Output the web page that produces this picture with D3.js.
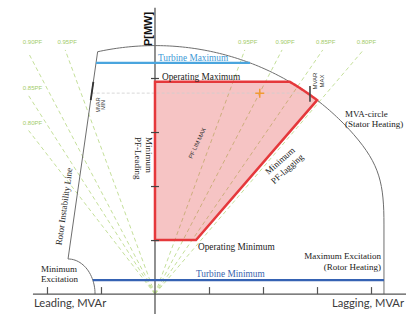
<!DOCTYPE html>
<html>
<head>
<meta charset="utf-8">
<script src="https://cdn.jsdelivr.net/npm/d3@7"></script>
<style>
  html, body { margin: 0; padding: 0; background: #fff; }
  svg { display: block; }
</style>
</head>
<body>
<svg id="chart" width="406" height="320"></svg>
<script>
// Generator capability diagram: P (MW) up, Q (MVAr) across, one unit per tick.
const qTicks = [-2, -1, 1, 2, 3, 4];
const pTicks = [1, 2, 3, 4];

// Constant power-factor rays, angle measured from the P axis (degrees)
const pfLabels = ["0.95PF", "0.90PF", "0.85PF", "0.80PF"];
const pfAngleLag = [20.2, 27.5, 34.5, 40.5];
const pfAngleLead = [20.2, 27.7, 32.5, 37.7];
const pfTopP = 4.52;
const pfLeftQ = -2.34;

// Capability limits
const mvaRadiusQ = 4.80;
const mvaRadiusP = 4.60;
const maxExcitationQ = 4.24;
const maxExcitationTopP = 1.28;
const rotorBlendDeg = 40;
const rotorLineQ = [-1.61, -1.07];
const rotorLineP = [0.65, 4.43];
const minExcitationQ = -1.61;
const minExcitationRadiusQ = 0.50;
const minExcitationRadiusP = 0.65;
const turbineMaxP = 4.28;
const turbineMinP = 0.26;

// Operating region
const operatingMaxP = 3.93;
const operatingMinP = 1.0;
const pfLeadLimitQ = 0;
const pfLagLimitQ = [0.76, 3.02];
const pfLagLimitP = [1.0, 3.61];
const mvarMaxQ = 2.87;
const mvarMaxP = [3.56, 3.85];
const mvarMinP = [3.59, 3.93];
const setpointQ = 1.94;
const setpointP = 3.72;

const W = 406, H = 320;
const svg = d3.select("#chart");
const x = d3.scaleLinear().domain([-2.87, 4.648]).range([0, W]);
const y = d3.scaleLinear().domain([-0.48, 5.444]).range([H, 0]);

const SERIF = "'Liberation Serif', 'Times New Roman', serif";
const SANS = "'Liberation Sans', Arial, sans-serif";

// ---- geometry helpers ----
const ellF = (q, p) => (q / mvaRadiusQ) ** 2 + (p / mvaRadiusP) ** 2 - 1;
const ellPt = t => [mvaRadiusQ * Math.cos(t), mvaRadiusP * Math.sin(t)];
const ellAngle = (q, p) => Math.atan2(p / mvaRadiusP, q / mvaRadiusQ);
function bisect(f, a, b) {
  let fa = f(a);
  for (let i = 0; i < 60; i++) {
    const m = (a + b) / 2, fm = f(m);
    if ((fm < 0) === (fa < 0)) { a = m; fa = fm; } else { b = m; }
  }
  return (a + b) / 2;
}
const rotorQ = p => rotorLineQ[0] + (p - rotorLineP[0]) * (rotorLineQ[1] - rotorLineQ[0]) / (rotorLineP[1] - rotorLineP[0]);
const lagQ = t => pfLagLimitQ[0] + t * (pfLagLimitQ[1] - pfLagLimitQ[0]);
const lagP = t => pfLagLimitP[0] + t * (pfLagLimitP[1] - pfLagLimitP[0]);
const minExcQAt = p => minExcitationQ + minExcitationRadiusQ * Math.sqrt(Math.max(0, 1 - (p / minExcitationRadiusP) ** 2));
const mvaQAt = p => mvaRadiusQ * Math.sqrt(Math.max(0, 1 - (p / mvaRadiusP) ** 2));

const rotorTopP = bisect(p => ellF(rotorQ(p), p), rotorLineP[0], mvaRadiusP);

// ---- power factor rays ----
const gPF = svg.append("g");
function pfRay(angleDeg, side) {
  const a = angleDeg * Math.PI / 180;
  const dq = side * Math.sin(a), dp = Math.cos(a);
  let t = pfTopP / dp;
  if (side < 0) t = Math.min(t, pfLeftQ / dq);
  return { q: t * dq, p: t * dp };
}
[[pfAngleLag, 1], [pfAngleLead, -1]].forEach(([angles, side]) => {
  angles.forEach((ang, i) => {
    const e = pfRay(ang, side);
    gPF.append("line")
      .attr("x1", x(0)).attr("y1", y(0))
      .attr("x2", x(e.q)).attr("y2", y(e.p))
      .attr("stroke", "#bddb8e").attr("stroke-width", 0.9)
      .attr("stroke-dasharray", "4,3");
    const onTop = e.p > pfTopP - 0.2;
    const lx = side > 0 ? x(e.q) + 3 : Math.max(x(e.q) + 2, 32.5);
    const ly = onTop ? y(pfTopP) - 6 : y(e.p) - 6;
    gPF.append("text")
      .attr("x", lx).attr("y", ly)
      .attr("text-anchor", "middle")
      .attr("font-family", SANS).attr("font-size", 6)
      .attr("fill", "#a3cc6a")
      .text(pfLabels[i]);
  });
});

// ---- vertical axis line (under the operating region) ----
svg.append("line")
  .attr("x1", x(0)).attr("x2", x(0))
  .attr("y1", y(5.30)).attr("y2", y(-0.37))
  .attr("stroke", "#555").attr("stroke-width", 1.3);

// ---- operating region ----
const thetaTop = Math.asin(operatingMaxP / mvaRadiusP);
const tCorner = bisect(t => ellF(lagQ(t), lagP(t)), 0, 3);
const cornerQ = lagQ(tCorner), cornerP = lagP(tCorner);
const thetaCorner = ellAngle(cornerQ, cornerP);
const region = [[pfLeadLimitQ, operatingMinP], [pfLeadLimitQ, operatingMaxP]];
const nArc = 30;
for (let i = 0; i <= nArc; i++) {
  region.push(ellPt(thetaTop + (thetaCorner - thetaTop) * i / nArc));
}
region.push([cornerQ, cornerP]);
region.push([pfLagLimitQ[0], pfLagLimitP[0]]);
const regionLine = d3.line().x(d => x(d[0])).y(d => y(d[1]));
svg.append("path")
  .attr("d", regionLine(region) + "Z")
  .attr("fill", "#e23c3c").attr("fill-opacity", 0.3)
  .attr("stroke", "none");

// ---- capability outline ----
const outline = d3.path();
const nMe = 24;
for (let i = 0; i <= nMe; i++) {
  const t = (i / nMe) * Math.PI / 2;
  const q = minExcitationQ + minExcitationRadiusQ * Math.cos(t);
  const p = minExcitationRadiusP * Math.sin(t);
  if (i === 0) outline.moveTo(x(q), y(p)); else outline.lineTo(x(q), y(p));
}
outline.lineTo(x(rotorQ(rotorTopP)), y(rotorTopP));
const thetaStart = ellAngle(rotorQ(rotorTopP), rotorTopP);
const thetaBlend = rotorBlendDeg * Math.PI / 180;
const nMva = 90;
for (let i = 1; i <= nMva; i++) {
  const [q, p] = ellPt(thetaStart + (thetaBlend - thetaStart) * i / nMva);
  outline.lineTo(x(q), y(p));
}
{
  const [q0, p0] = ellPt(thetaBlend);
  let tq = mvaRadiusQ * Math.sin(thetaBlend), tp = -mvaRadiusP * Math.cos(thetaBlend);
  const n = Math.hypot(tq, tp); tq /= n; tp /= n;
  const k = 0.75;
  outline.bezierCurveTo(
    x(q0 + k * tq), y(p0 + k * tp),
    x(maxExcitationQ), y(maxExcitationTopP + k),
    x(maxExcitationQ), y(maxExcitationTopP));
  outline.lineTo(x(maxExcitationQ), y(0));
}
svg.append("path")
  .attr("d", outline.toString())
  .attr("fill", "none").attr("stroke", "#6e6e6e").attr("stroke-width", 1);

// ---- set-point level ----
svg.append("line")
  .attr("x1", x(rotorQ(setpointP))).attr("x2", x(mvarMaxQ))
  .attr("y1", y(setpointP)).attr("y2", y(setpointP))
  .attr("stroke", "#cfcfcf").attr("stroke-width", 0.8)
  .attr("stroke-dasharray", "3,2");

// ---- turbine limits ----
svg.append("line")
  .attr("x1", x(rotorQ(turbineMaxP))).attr("x2", x(mvaQAt(turbineMaxP)))
  .attr("y1", y(turbineMaxP)).attr("y2", y(turbineMaxP))
  .attr("stroke", "#4aa5de").attr("stroke-width", 2.2);
svg.append("line")
  .attr("x1", x(minExcQAt(turbineMinP))).attr("x2", x(maxExcitationQ))
  .attr("y1", y(turbineMinP)).attr("y2", y(turbineMinP))
  .attr("stroke", "#3562b3").attr("stroke-width", 2.2);

// ---- operating region outline ----
svg.append("path")
  .attr("d", regionLine(region) + "Z")
  .attr("fill", "none")
  .attr("stroke", "#e5383b").attr("stroke-width", 2.5)
  .attr("stroke-linejoin", "miter");

// ---- horizontal axis ----
svg.append("line")
  .attr("x1", x(-2.26)).attr("x2", W)
  .attr("y1", y(0)).attr("y2", y(0))
  .attr("stroke", "#555").attr("stroke-width", 1.3);
const gx = svg.append("g")
  .attr("transform", `translate(0,${y(0)})`)
  .call(d3.axisBottom(x).tickValues(qTicks).tickSize(-7).tickFormat(""));
gx.select(".domain").remove();
gx.selectAll(".tick line").attr("stroke", "#555").attr("stroke-width", 1.2);

const gy = svg.append("g")
  .attr("transform", `translate(${x(0) + 4},0)`)
  .call(d3.axisLeft(y).tickValues(pTicks).tickSize(8).tickFormat(""));
gy.select(".domain").remove();
gy.selectAll(".tick line").attr("stroke", "#444").attr("stroke-width", 1.2);

// ---- MVAr limit markers ----
svg.append("line")
  .attr("x1", x(mvarMaxQ)).attr("x2", x(mvarMaxQ))
  .attr("y1", y(mvarMaxP[0])).attr("y2", y(mvarMaxP[1]))
  .attr("stroke", "#444").attr("stroke-width", 1.6);
svg.append("line")
  .attr("x1", x(rotorQ(mvarMinP[0]))).attr("x2", x(rotorQ(mvarMinP[1])))
  .attr("y1", y(mvarMinP[0])).attr("y2", y(mvarMinP[1]))
  .attr("stroke", "#333").attr("stroke-width", 1.8);

// ---- set point ----
const sx = x(setpointQ), sy = y(setpointP);
svg.append("path")
  .attr("d", `M${sx - 4.5},${sy}H${sx + 4.5}M${sx},${sy - 4.5}V${sy + 4.5}`)
  .attr("stroke", "#f29a32").attr("stroke-width", 1.5);

// ---- text ----
function label(tx, ty, lines, o = {}) {
  const t = svg.append("text")
    .attr("transform", `translate(${tx},${ty})` + (o.rotate ? ` rotate(${o.rotate})` : ""))
    .attr("font-family", o.family || SERIF)
    .attr("font-size", o.size || 9.3)
    .attr("font-weight", o.weight || "normal")
    .attr("fill", o.color || "#222")
    .attr("text-anchor", o.anchor || "start");
  [].concat(lines).forEach((s, i) => {
    t.append("tspan").attr("x", 0).attr("dy", i ? (o.lh || 10.8) : 0).text(s);
  });
  return t;
}

label(152, 29, "P[MW]", { family: SANS, size: 11, weight: "bold", rotate: -90, anchor: "middle", color: "#111" });
label(34, 307, "Leading, MVAr", { family: "Lato, sans-serif", size: 11.2, color: "#3a3a3a" });
label(404, 307, "Lagging, MVAr", { family: "Lato, sans-serif", size: 11.2, color: "#3a3a3a", anchor: "end" });

label(158, 60.5, "Turbine Maximum", { color: "#3d9ad6" });
label(162, 79.5, "Operating Maximum");
label(198, 250, "Operating Minimum");
label(196, 276.5, "Turbine Minimum", { color: "#3a63ad" });
label(345, 116.5, ["MVA-circle", "(Stator Heating)"], { size: 9 });
label(381, 259, ["Maximum Excitation", "(Rotor Heating)"], { anchor: "end", size: 9 });
label(41, 271.5, ["Minimum", "Excitation"], { size: 9 });
label(145.5, 137, ["Minimum", "PF-Leading"], { rotate: 90, size: 9 });
label(282, 163, ["Minimum", "PF-lagging"], { rotate: -42, anchor: "middle", size: 9 });
label(67, 207, "Rotor Instability Line", { rotate: -82, anchor: "middle", size: 9 });
label(199, 144, "PF LIM MAX", { family: SANS, size: 5.8, rotate: -65, anchor: "middle", color: "#333" });
label(317, 81, ["MVAR", "MAX"], { family: SANS, size: 6, rotate: -90, anchor: "middle", lh: 7, color: "#333" });
label(99.5, 105, ["MVAR", "MIN"], { family: SANS, size: 5.3, rotate: -90, anchor: "middle", lh: 5.5, color: "#333" });
</script>
</body>
</html>
